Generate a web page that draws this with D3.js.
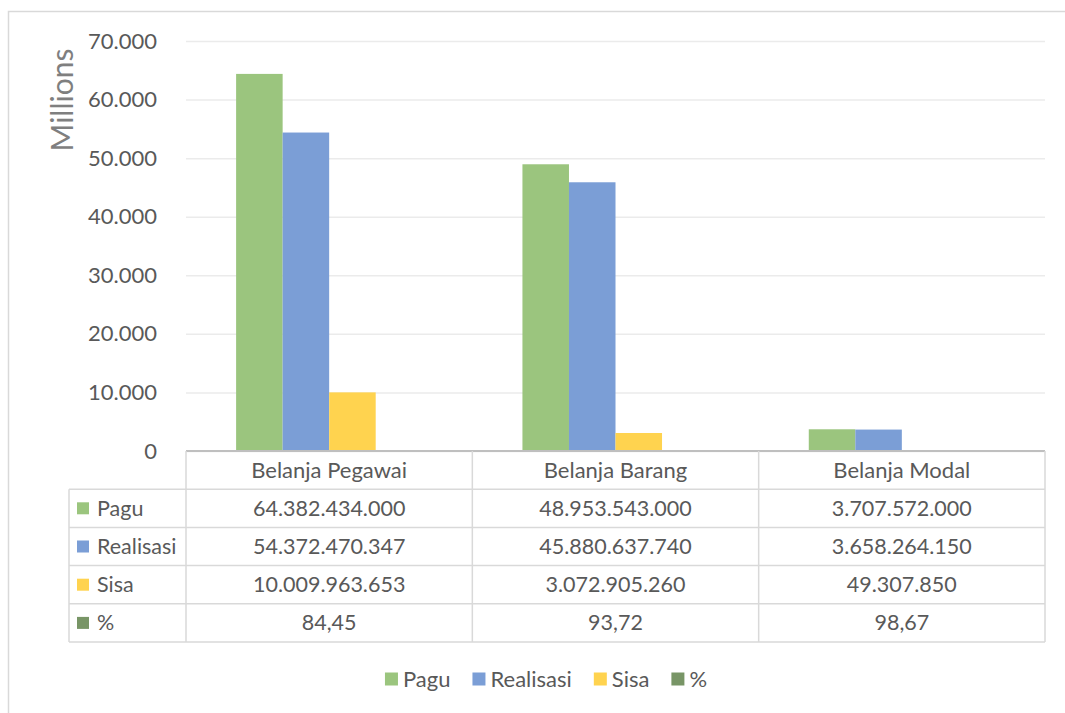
<!DOCTYPE html>
<html>
<head>
<meta charset="utf-8">
<script src="https://cdn.jsdelivr.net/npm/d3@7"></script>
<style>
  html, body { margin: 0; padding: 0; background: #fff; }
  svg { display: block; font-family: Lato, "Open Sans", sans-serif; }
</style>
</head>
<body>
<svg id="chart" width="1065" height="713"></svg>
<script>
// Budget categories and series (rupiah)
const categories = ["Belanja Pegawai", "Belanja Barang", "Belanja Modal"];
const seriesNames = ["Pagu", "Realisasi", "Sisa", "%"];
const pagu = [64382434000, 48953543000, 3707572000];
const realisasi = [54372470347, 45880637740, 3658264150];
const sisa = [10009963653, 3072905260, 49307850];
const persen = [84.45, 93.72, 98.67];
const yTicks = [0, 10000, 20000, 30000, 40000, 50000, 60000, 70000];

const seriesValues = [pagu, realisasi, sisa, persen];
const colors = ["#9BC57E", "#7B9ED6", "#FFD34F", "#789566"];

const idLocale = d3.formatLocale({ decimal: ",", thousands: ".", grouping: [3], currency: ["Rp", ""] });
const fmtInt = idLocale.format(",.0f");
const fmtPct = idLocale.format(",.2f");

const svg = d3.select("#chart");
const textColor = "#595959";
const lineColor = "#D9D9D9";

// outer chart frame
svg.append("rect").attr("x", 8.5).attr("y", 11.5).attr("width", 1120).attr("height", 800)
  .attr("fill", "none").attr("stroke", lineColor).attr("stroke-width", 1.5);

const plot = { left: 186, right: 1045, top: 41, bottom: 451 };

const y = d3.scaleLinear().domain([0, 70000]).range([plot.bottom, plot.top]);
const x0 = d3.scaleBand().domain(categories).range([plot.left, plot.right])
  .paddingInner(0.35).paddingOuter(0.175);
const x1 = d3.scaleBand().domain(seriesNames).range([0, x0.bandwidth()]);

// gridlines and value labels
const yAxis = d3.axisLeft(y).tickValues(yTicks).tickSize(-(plot.right - plot.left))
  .tickPadding(29).tickFormat(d => idLocale.format(",")(d));
const gAxis = svg.append("g").attr("transform", `translate(${plot.left},0)`).call(yAxis);
gAxis.select(".domain").remove();
gAxis.selectAll(".tick line").attr("stroke", "#EBEBEB").attr("stroke-width", 1.5);
gAxis.selectAll(".tick text").attr("fill", textColor).attr("font-size", 22)
  .attr("font-family", "Lato, sans-serif");

// axis title
svg.append("text").attr("transform", "translate(73,100) rotate(-90)")
  .attr("text-anchor", "middle").attr("fill", "#7F7F7F").attr("font-size", 30)
  .text("Millions");

// bars (values in millions)
const groups = svg.append("g").selectAll("g").data(categories).join("g")
  .attr("transform", d => `translate(${x0(d)},0)`);
groups.selectAll("rect")
  .data((c, i) => seriesNames.map((s, j) => ({ s, j, v: seriesValues[j][i] / 1e6 })))
  .join("rect")
  .attr("x", d => x1(d.s))
  .attr("width", x1.bandwidth())
  .attr("y", d => y(d.v))
  .attr("height", d => y(0) - y(d.v))
  .attr("fill", d => colors[d.j]);

// data table
const step = x0.step();
const colEdges = categories.map((c, i) => plot.left + i * step).concat([plot.right]);
const rowH = 38.2;
const tableTop = plot.bottom;
const rowEdges = d3.range(6).map(i => tableTop + i * rowH);
const keyLeft = 69;
const tbl = svg.append("g");

// horizontal rules
rowEdges.forEach((ry, i) => {
  tbl.append("line").attr("x1", i === 0 ? plot.left : keyLeft).attr("x2", plot.right)
    .attr("y1", ry).attr("y2", ry)
    .attr("stroke", i === 0 ? "#BFBFBF" : lineColor).attr("stroke-width", i === 0 ? 2 : 1.5);
});
// vertical rules
colEdges.forEach(cx => {
  tbl.append("line").attr("x1", cx).attr("x2", cx).attr("y1", tableTop).attr("y2", rowEdges[5])
    .attr("stroke", lineColor).attr("stroke-width", 1.5);
});
tbl.append("line").attr("x1", keyLeft).attr("x2", keyLeft).attr("y1", rowEdges[1]).attr("y2", rowEdges[5])
  .attr("stroke", lineColor).attr("stroke-width", 1.5);

// header labels
categories.forEach((c, i) => {
  tbl.append("text").attr("x", x0(c) + x0.bandwidth() / 2).attr("y", (rowEdges[0] + rowEdges[1]) / 2)
    .attr("dy", "0.35em").attr("text-anchor", "middle").attr("fill", textColor)
    .attr("font-size", 22).text(c);
});
// rows
seriesNames.forEach((s, j) => {
  const cy = (rowEdges[j + 1] + rowEdges[j + 2]) / 2;
  tbl.append("rect").attr("x", 77).attr("y", cy - 6).attr("width", 12).attr("height", 12).attr("fill", colors[j]);
  tbl.append("text").attr("x", 97).attr("y", cy).attr("dy", "0.35em").attr("fill", textColor)
    .attr("font-size", 21.5).text(s);
  categories.forEach((c, i) => {
    const v = seriesValues[j][i];
    tbl.append("text").attr("x", x0(c) + x0.bandwidth() / 2).attr("y", cy).attr("dy", "0.35em")
      .attr("text-anchor", "middle").attr("fill", textColor).attr("font-size", 21.5)
      .text(s === "%" ? fmtPct(v) : fmtInt(v));
  });
});

// legend
const legend = svg.append("g");
const items = legend.selectAll("g").data(seriesNames).join("g");
items.append("rect").attr("width", 13).attr("height", 13).attr("y", -6.5).attr("fill", (d, j) => colors[j]);
items.append("text").attr("x", 18).attr("dy", "0.35em").attr("fill", textColor).attr("font-size", 22).text(d => d);
const widths = [];
items.each(function () { widths.push(18 + this.querySelector("text").getComputedTextLength()); });
const gapL = 22;
const total = d3.sum(widths) + gapL * (widths.length - 1);
const start = 546 - total / 2;
items.attr("transform", (d, j) => {
  const tx = start + d3.sum(widths.slice(0, j)) + gapL * j;
  return `translate(${tx},679)`;
});
</script>
</body>
</html>
